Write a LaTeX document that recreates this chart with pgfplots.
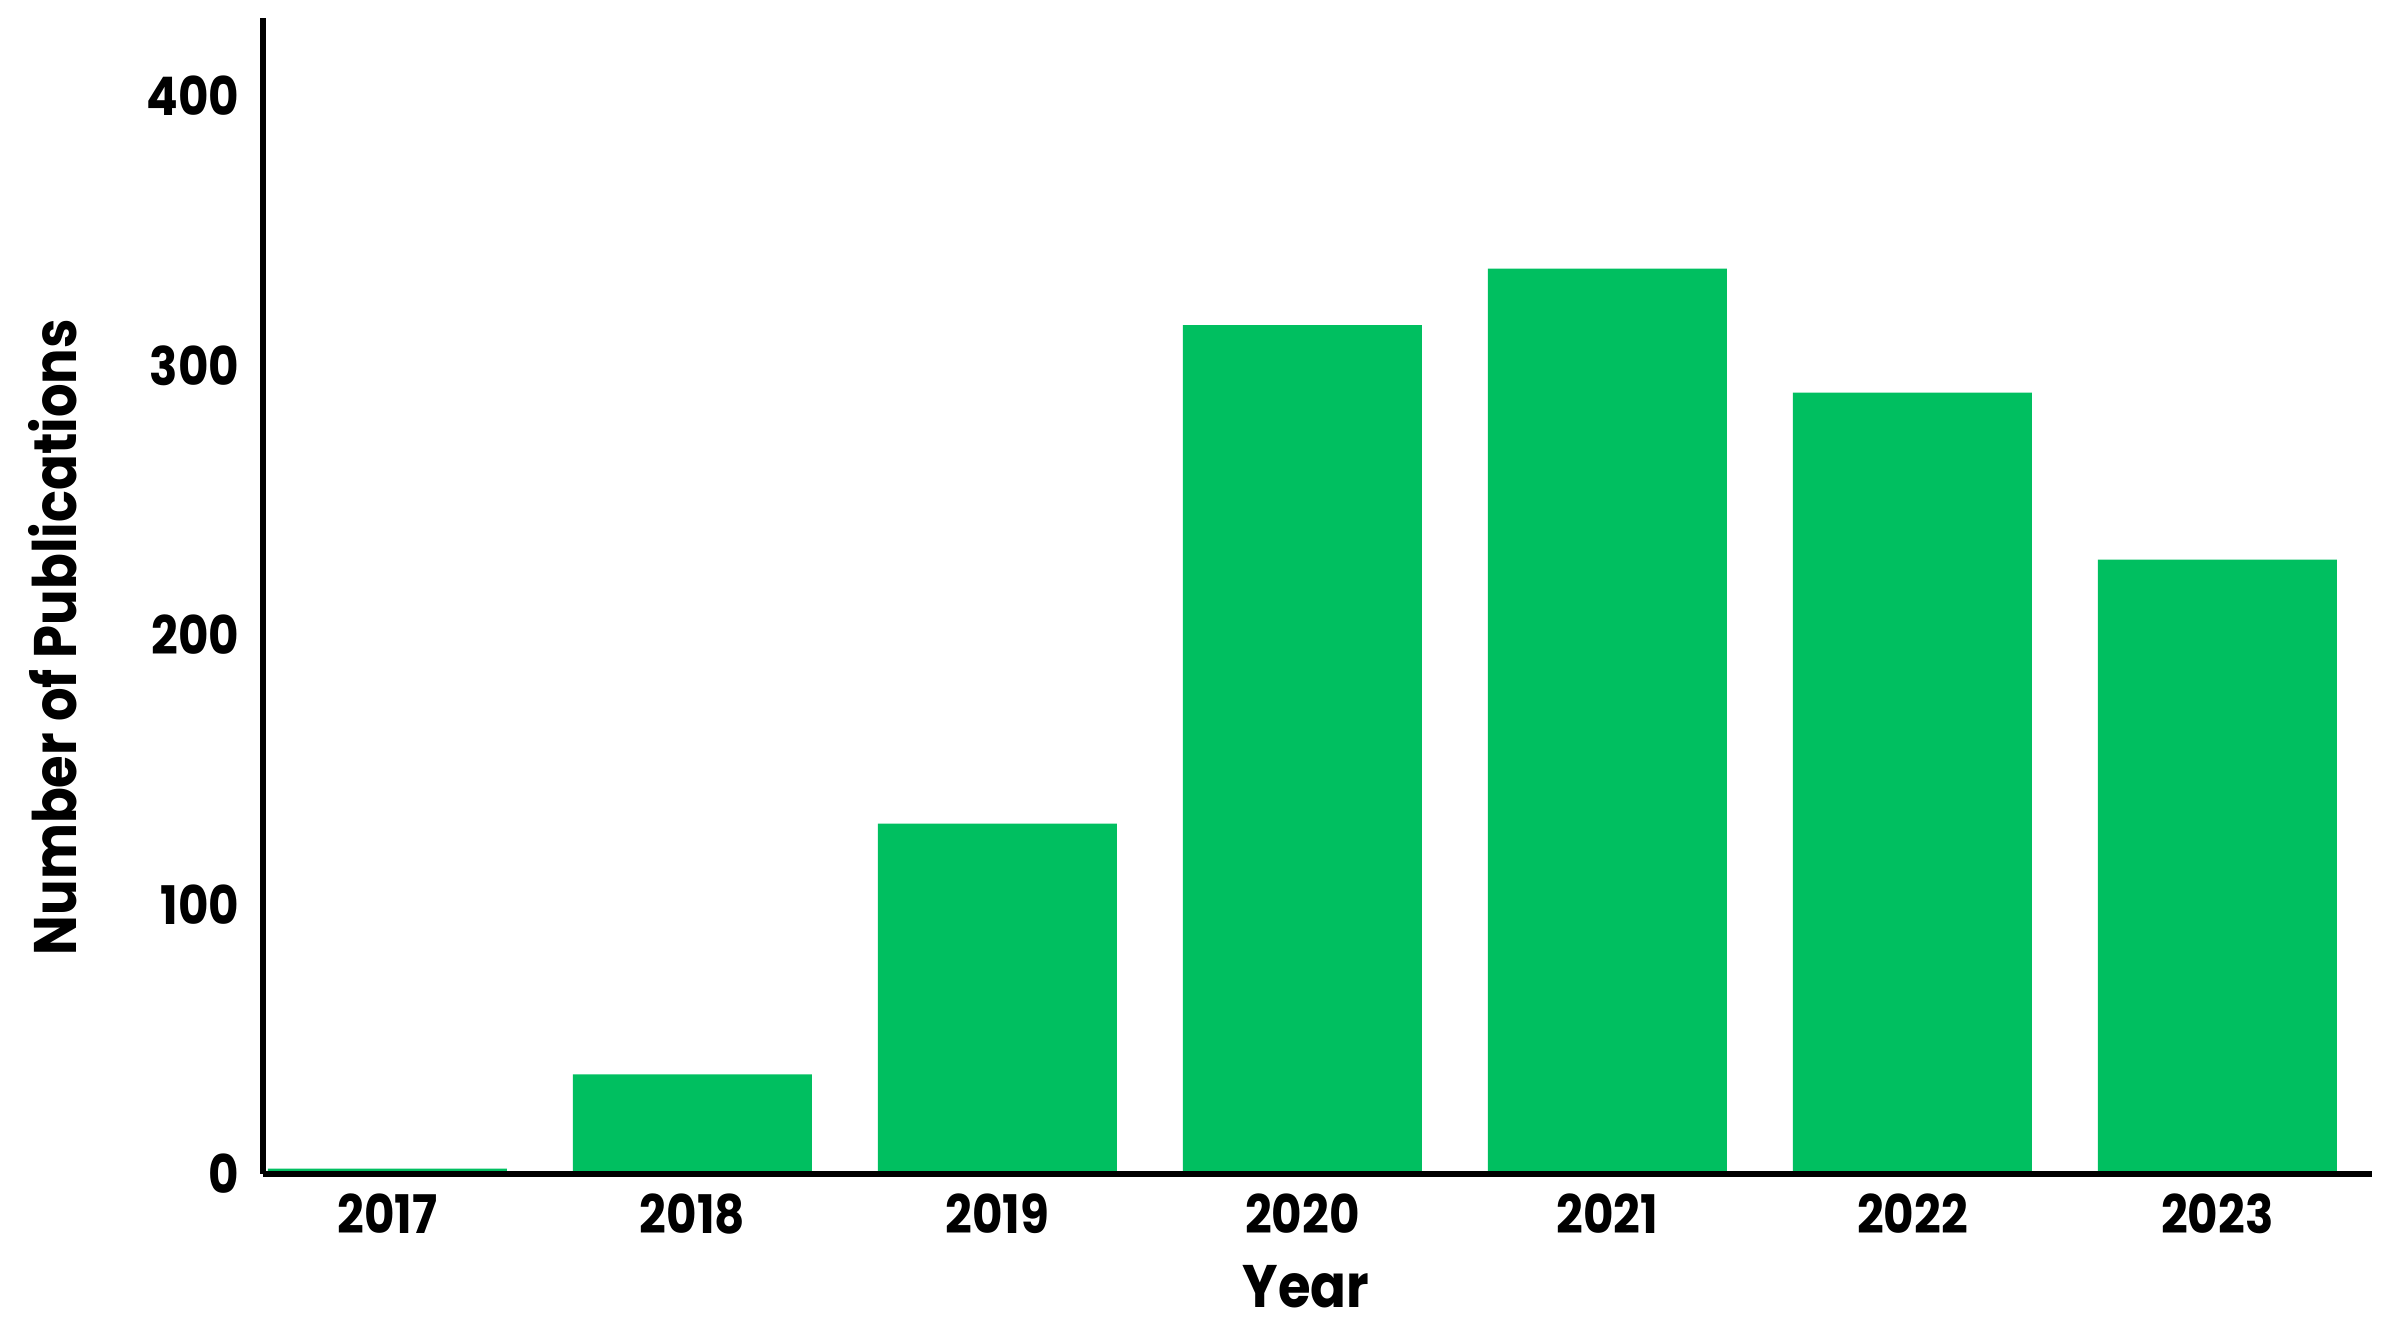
\documentclass[border=0pt]{standalone}
\usepackage{fontspec}
\setmainfont{Poppins}[FakeStretch=0.88]
\usepackage{pgfplots}
\usepackage{pgfplotstable}
\pgfplotsset{compat=1.18}
\definecolor{bargreen}{RGB}{0,191,96}

% publications per year
\pgfplotstableread{
idx year count
0 2017 2
1 2018 37
2 2019 130
3 2020 315
4 2021 336
5 2022 290
6 2023 228
}\pubdata

\begin{document}
\begin{tikzpicture}
\useasboundingbox (0,0) rectangle (600pt,334.5pt);
\begin{axis}[
    at={(65.75pt,41pt)}, anchor=south west,
    width=527.25pt, height=289pt, scale only axis,
    axis lines=left,
    axis line style={-, line width=1.4pt},
    axis on top,
    xmin=-0.408, xmax=6.507,
    ymin=0, ymax=429,
    ybar, bar width=59.75pt,
    xtick=data,
    xticklabels={2017,2018,2019,2020,2021,2022,2023},
    ytick={0,100,200,300,400},
    tick style={draw=none},
    /pgf/number format/assume math mode=true,
    ticklabel style={font=\fontsize{13.3}{16}\selectfont\bfseries},
    yticklabel style={xshift=-0.3pt},
    xticklabel style={yshift=2.8pt},
    xlabel={Year},
    ylabel={Number of Publications},
    xlabel style={font=\fontsize{15}{18}\selectfont\bfseries,
        at={(axis description cs:0.4946,-0.067)}, anchor=north},
    ylabel style={font=\fontsize{15}{18}\selectfont\bfseries,
        at={(axis description cs:-0.0814,0.4645)}, anchor=south, rotate=0},
]
\addplot[fill=bargreen, draw=none] table[x=idx, y=count] {\pubdata};
\end{axis}
\end{tikzpicture}
\end{document}
